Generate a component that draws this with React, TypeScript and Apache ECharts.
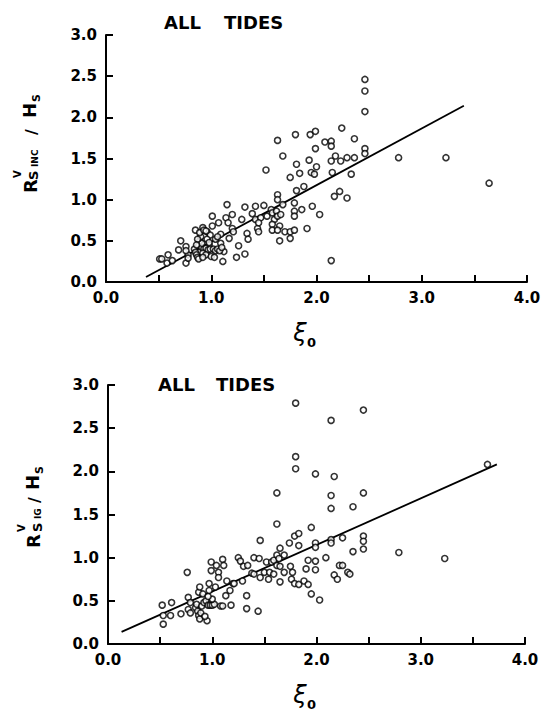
import React, { useEffect, useRef } from "react";
import * as echarts from "echarts";

// ---- data ----
const xTicks = [0, 1, 2, 3, 4];
const yTicks = [0, 0.5, 1, 1.5, 2, 2.5, 3];

const incXi = [
  0.51, 0.53, 0.59, 0.58, 0.63, 0.71, 0.69, 0.76, 0.76, 0.78, 0.78, 0.76, 0.85, 0.92, 0.96, 0.99, 1.01, 0.98,
  1.01, 1.07, 1.09, 1.09, 1.11, 1.12, 1.15, 1.14, 1.16, 1.17, 1.2, 1.2, 1.21, 1.24, 1.26, 1.29, 1.32, 1.34,
  1.35, 1.32, 1.39, 1.42, 1.42, 1.44, 1.45, 1.47, 1.45, 1.5, 1.52, 1.53, 1.57, 1.58, 1.6, 1.58, 1.58, 1.63,
  1.63, 1.63, 1.62, 1.63, 1.65, 1.63, 1.65, 1.68, 1.68, 1.66, 1.7, 1.75, 1.75, 1.75, 1.8, 1.81, 1.81, 1.79,
  1.79, 1.79, 1.79, 1.84, 1.86, 1.88, 1.91, 1.93, 1.94, 1.96, 1.95, 1.98, 1.99, 1.99, 2.0, 2.03, 2.08, 2.14,
  2.14, 2.14, 2.15, 2.14, 2.17, 2.18, 2.22, 2.23, 2.24, 2.29, 2.29, 2.33, 2.36, 2.36, 2.46, 2.46, 2.46, 2.46,
  2.46, 2.78, 3.23, 3.64,
  0.84, 0.85, 0.86, 0.87, 0.88, 0.88, 0.89, 0.9, 0.89, 0.91, 0.93, 0.95, 0.97, 0.99, 1.02, 1.04, 1.06, 1.08,
  0.92, 0.95, 1.0, 1.03, 0.93, 0.96, 0.98, 1.04, 1.06, 1.1, 0.91, 0.87, 0.86, 0.95, 0.92,
];
const incRatio = [
  0.28, 0.28, 0.33, 0.23, 0.26, 0.5, 0.39, 0.43, 0.23, 0.33, 0.29, 0.38, 0.63, 0.66, 0.61, 0.57, 0.8, 0.45,
  0.68, 0.72, 0.58, 0.47, 0.25, 0.37, 0.94, 0.78, 0.72, 0.53, 0.82, 0.65, 0.61, 0.3, 0.44, 0.76, 0.91, 0.59,
  0.52, 0.34, 0.83, 0.92, 0.76, 0.65, 0.61, 0.78, 0.72, 0.93, 1.36, 0.8, 0.88, 0.84, 0.76, 0.7, 0.63, 1.72,
  1.06, 1.0, 0.86, 0.8, 0.68, 0.63, 0.5, 1.53, 0.94, 0.82, 0.61, 1.27, 0.61, 0.53, 1.79, 1.43, 1.11, 0.96,
  0.86, 0.8, 0.63, 1.32, 0.88, 1.16, 0.65, 1.48, 1.79, 0.92, 1.33, 1.31, 1.83, 1.62, 1.4, 0.82, 1.7, 1.71,
  1.65, 1.47, 1.33, 0.26, 1.04, 1.53, 1.1, 1.47, 1.87, 1.51, 1.02, 1.31, 1.74, 1.51, 2.46, 2.32, 2.07, 1.62,
  1.56, 1.51, 1.51, 1.2,
  0.4, 0.36, 0.33, 0.3, 0.28, 0.44, 0.5, 0.55, 0.6, 0.42, 0.4, 0.41, 0.39, 0.4, 0.4, 0.38, 0.4, 0.38,
  0.35, 0.33, 0.31, 0.3, 0.63, 0.52, 0.48, 0.52, 0.55, 0.42, 0.47, 0.52, 0.45, 0.62, 0.3,
];
const incFitXi = [0.38, 3.4];
const incFitRatio = [0.06, 2.14];

const igXi = [
  0.52, 0.53, 0.53, 0.6, 0.61, 0.7, 0.76, 0.77, 0.77, 0.79, 0.79, 0.99, 0.99, 1.03, 1.04, 1.06, 1.06, 1.1,
  1.11, 1.08, 1.1, 1.13, 1.14, 1.17, 1.18, 1.2, 1.21, 1.25, 1.27, 1.29, 1.3, 1.33, 1.33, 1.34, 1.4, 1.38,
  1.4, 1.44, 1.45, 1.46, 1.46, 1.5, 1.52, 1.54, 1.55, 1.57, 1.59, 1.59, 1.62, 1.62, 1.62, 1.62, 1.64, 1.65,
  1.65, 1.65, 1.69, 1.69, 1.74, 1.75, 1.77, 1.76, 1.8, 1.8, 1.8, 1.79, 1.83, 1.83, 1.79, 1.83, 1.88, 1.9,
  1.92, 1.95, 1.92, 1.95, 1.99, 1.99, 1.99, 1.99, 1.99, 2.03, 2.09, 2.14, 2.14, 2.14, 2.14, 2.14, 2.17, 2.17,
  2.2, 2.22, 2.25, 2.25, 2.3, 2.32, 2.35, 2.35, 2.45, 2.45, 2.45, 2.45, 2.45, 2.79, 3.23, 3.64,
  0.84, 0.85, 0.86, 0.87, 0.88, 0.89, 0.9, 0.92, 0.94, 0.96, 0.98, 1.0, 1.02, 0.87, 0.88, 0.91, 0.95, 0.93,
  0.97, 0.97, 1.0, 0.96,
];
const igRatio = [
  0.45, 0.33, 0.23, 0.33, 0.48, 0.35, 0.83, 0.54, 0.4, 0.48, 0.36, 0.95, 0.85, 0.66, 0.91, 0.83, 0.77, 0.98,
  0.91, 0.44, 0.44, 0.56, 0.73, 0.62, 0.45, 0.7, 0.7, 1.0, 0.96, 0.73, 0.9, 0.56, 0.41, 0.91, 1.0, 0.82,
  0.81, 0.38, 0.99, 0.77, 1.2, 0.83, 0.95, 0.75, 0.83, 0.95, 0.81, 0.97, 1.75, 1.39, 1.03, 0.91, 0.99, 1.11,
  0.9, 0.72, 1.03, 0.83, 1.17, 0.9, 0.83, 0.75, 2.79, 2.17, 2.03, 1.25, 1.28, 1.14, 0.7, 0.69, 0.73, 0.87,
  0.69, 1.35, 0.97, 0.58, 1.97, 1.17, 1.12, 0.96, 0.86, 0.51, 1.0, 2.59, 1.72, 1.57, 1.21, 1.17, 1.94, 0.8,
  0.75, 0.91, 0.91, 1.23, 0.83, 0.81, 1.59, 1.07, 2.71, 1.75, 1.25, 1.19, 1.1, 1.06, 0.99, 2.08,
  0.42, 0.46, 0.38, 0.33, 0.29, 0.36, 0.44, 0.48, 0.5, 0.45, 0.45, 0.45, 0.46, 0.6, 0.66, 0.58, 0.27, 0.32,
  0.7, 0.62, 0.52, 0.55,
];
const igFitXi = [0.13, 3.73];
const igFitRatio = [0.14, 2.08];

const FONT = "DejaVu Sans";

function pairs(xs: number[], ys: number[]) {
  return xs.map((x, i) => [x, ys[i]]);
}

function axisPair(gridIndex: number) {
  const common = {
    gridIndex,
    type: "value" as const,
    axisLine: { show: true, onZero: false, lineStyle: { color: "#000", width: 2 } },
    axisTick: { show: true, inside: true, length: 7, lineStyle: { color: "#000", width: 2 } },
    splitLine: { show: false },
  };
  const x = {
    ...common,
    min: 0,
    max: 4,
    interval: 0.5,
    axisLabel: {
      color: "#000",
      fontFamily: FONT,
      fontWeight: "bold",
      fontSize: 15,
      margin: 8,
      formatter: (v: number) => (xTicks.includes(v) ? v.toFixed(1) : ""),
    },
  };
  const y = {
    ...common,
    min: 0,
    max: 3,
    interval: 0.5,
    axisLabel: {
      color: "#000",
      fontFamily: FONT,
      fontWeight: "bold",
      fontSize: 15,
      margin: 9,
      formatter: (v: number) => (yTicks.includes(v) ? v.toFixed(1) : ""),
    },
  };
  return { x, y };
}

function txt(text: string, x: number, y: number, size: number, extra: any = {}) {
  return {
    type: "text",
    x,
    y,
    style: {
      text,
      fill: "#000",
      font: `bold ${size}px "${FONT}"`,
      align: "left",
      verticalAlign: "middle",
      ...extra,
    },
  };
}

function yName(ox: number, oy: number, sub: string, parts: any) {
  return {
    type: "group",
    x: ox,
    y: oy,
    rotation: Math.PI / 2,
    children: [
      txt("R", 0, parts.R, 18),
      txt("V", parts.vx, parts.V, 10),
      txt("S", parts.sx, parts.S, 13),
      txt(sub, parts.subx, parts.sub, 9),
      txt("/", parts.slx, parts.sl, 16),
      txt("H", parts.hx, parts.H, 18),
      txt("S", parts.hsx, parts.hs, 11),
    ],
  };
}

function xiName(cx: number, cy: number) {
  return {
    type: "group",
    x: cx,
    y: cy,
    children: [
      {
        type: "text",
        x: 0,
        y: 0,
        style: { text: "ξ", fill: "#000", font: `italic 24px "${FONT}"`, align: "center", verticalAlign: "middle" },
      },
      {
        type: "text",
        x: 7,
        y: 9,
        style: { text: "0", fill: "#000", font: `bold 13px "${FONT}"`, align: "left", verticalAlign: "middle" },
      },
    ],
  };
}

export default function App() {
  const ref = useRef<HTMLDivElement>(null);
  useEffect(() => {
    document.body.style.margin = "0";
    const chart = echarts.init(ref.current!, null, { renderer: "svg" });
    const a0 = axisPair(0);
    const a1 = axisPair(1);
    const scatterStyle = {
      color: "#fff",
      borderColor: "#000",
      borderWidth: 1.6,
    };
    chart.setOption({
      animation: false,
      backgroundColor: "#fff",
      grid: [
        { left: 106, top: 35, width: 421, height: 247 },
        { left: 108, top: 385, width: 417, height: 259 },
      ],
      xAxis: [a0.x, a1.x],
      yAxis: [a0.y, a1.y],
      series: [
        {
          type: "line",
          xAxisIndex: 0,
          yAxisIndex: 0,
          data: pairs(incFitXi, incFitRatio),
          symbol: "none",
          lineStyle: { color: "#000", width: 1.8 },
          z: 1,
        },
        {
          type: "scatter",
          xAxisIndex: 0,
          yAxisIndex: 0,
          data: pairs(incXi, incRatio),
          symbol: "circle",
          symbolSize: 6,
          itemStyle: scatterStyle,
          z: 3,
        },
        {
          type: "line",
          xAxisIndex: 1,
          yAxisIndex: 1,
          data: pairs(igFitXi, igFitRatio),
          symbol: "none",
          lineStyle: { color: "#000", width: 1.8 },
          z: 1,
        },
        {
          type: "scatter",
          xAxisIndex: 1,
          yAxisIndex: 1,
          data: pairs(igXi, igRatio),
          symbol: "circle",
          symbolSize: 6,
          itemStyle: scatterStyle,
          z: 3,
        },
      ],
      graphic: [
        txt("ALL", 164, 22, 18),
        txt("TIDES", 224, 22, 18),
        txt("ALL", 158, 384, 18),
        txt("TIDES", 216, 384, 18),
        yName(37, 193, "INC", {
          R: -7, vx: 15, V: -20, sx: 13, S: -4, subx: 26, sub: -2, slx: 58, sl: -6, hx: 75, H: -8, hsx: 91, hs: -1,
        }),
        yName(40, 548, "IG", {
          R: -7, vx: 16, V: -19, sx: 16, S: -3, subx: 29, sub: -2, slx: 45, sl: -6, hx: 58, H: -8, hsx: 74, hs: -1,
        }),
        xiName(300, 333),
        xiName(300, 695),
      ],
    });
    return () => chart.dispose();
  }, []);
  return <div ref={ref} style={{ position: "absolute", left: 0, top: 0, width: 554, height: 713 }} />;
}
